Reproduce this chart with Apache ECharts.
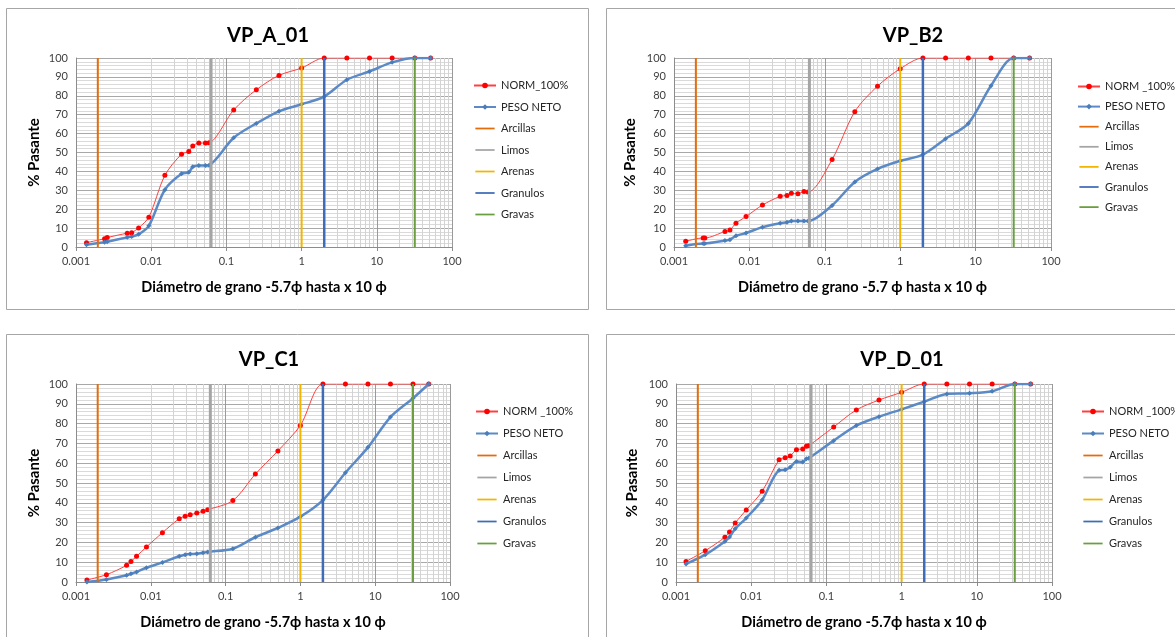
<!DOCTYPE html>
<html><head><meta charset="utf-8">
<script src="https://cdn.jsdelivr.net/npm/echarts@6/dist/echarts.min.js"></script>
<style>html,body{margin:0;padding:0;background:#fff}#c{width:1175px;height:637px}</style>
</head><body><div id="c"></div>
<script>
// ---------- DATA ----------
const xTickLabels = ['0.001', '0.01', '0.1', '1', '10', '100'];
const yTickValues = [0, 10, 20, 30, 40, 50, 60, 70, 80, 90, 100];

// VP_A_01
const sizeA = [0.00138, 0.0024, 0.0026, 0.0048, 0.0055, 0.0068, 0.0093, 0.0152, 0.0253, 0.0316, 0.0357, 0.043, 0.0526, 0.0589, 0.125, 0.25, 0.5, 1, 2, 4, 8, 16, 32, 52];
const normA = [2.3, 4.4, 5.0, 7.3, 7.6, 10.1, 15.8, 37.9, 49.1, 50.5, 53.4, 55.0, 55.0, 55.1, 72.5, 83.2, 90.8, 94.7, 100, 100, 100, 100, 100, 100];
const pesoA = [1.2, 2.5, 2.8, 5.1, 5.5, 6.7, 11.2, 30.3, 38.7, 39.5, 42.4, 43.1, 43.1, 43.3, 57.8, 65.4, 71.8, 75.5, 79.6, 88.5, 92.9, 97.7, 100, 100];

// VP_B2
const sizeB = [0.00143, 0.00244, 0.00256, 0.00474, 0.00552, 0.00664, 0.00903, 0.0149, 0.0256, 0.0315, 0.036, 0.044, 0.053, 0.06, 0.125, 0.25, 0.5, 1, 2, 4, 8, 16, 32, 52];
const normB = [3.0, 4.8, 4.8, 8.2, 9.0, 12.6, 16.1, 22.2, 26.8, 27.3, 28.4, 28.2, 29.3, 29.1, 46.3, 71.6, 85.1, 94.3, 100, 100, 100, 100, 100, 100];
const pesoB = [0.7, 1.9, 1.9, 3.4, 3.9, 5.9, 7.4, 10.5, 12.6, 13.1, 13.7, 13.7, 13.7, 13.7, 22.0, 34.4, 41.3, 45.6, 48.9, 57.3, 65.4, 85.3, 100, 100];

// VP_C1
const sizeC = [0.0014, 0.00255, 0.00475, 0.00543, 0.00645, 0.00875, 0.0143, 0.024, 0.0288, 0.0336, 0.0412, 0.05, 0.0577, 0.125, 0.25, 0.5, 1, 2, 4, 8, 16, 32, 52];
const normC = [1.0, 3.7, 8.4, 10.3, 13.0, 17.7, 24.9, 32.0, 33.2, 34.0, 34.8, 35.7, 36.5, 41.1, 54.5, 66.2, 79.1, 100, 100, 100, 100, 100, 100];
const pesoC = [0, 1.3, 3.4, 4.2, 5.1, 7.2, 9.9, 13.0, 13.8, 14.1, 14.3, 14.8, 15.2, 16.8, 22.6, 27.3, 33.0, 41.4, 55.2, 68.0, 83.3, 92.8, 100];

// VP_D_01
const sizeD = [0.00136, 0.00245, 0.00447, 0.00515, 0.00613, 0.0086, 0.014, 0.0235, 0.0283, 0.033, 0.04, 0.0485, 0.0543, 0.0582, 0.125, 0.25, 0.5, 1, 2, 4, 8, 16, 32, 52];
const normD = [10.4, 15.8, 22.6, 25.3, 29.8, 36.4, 45.8, 61.8, 62.8, 63.6, 66.8, 67.2, 68.5, 68.8, 78.3, 86.9, 91.9, 95.8, 100, 100, 100, 100, 100, 100];
const pesoD = [9.1, 13.8, 20.5, 22.7, 26.9, 32.3, 41.4, 56.4, 56.7, 57.9, 60.9, 60.6, 62.3, 62.5, 71.4, 79.0, 83.5, 87.2, 91.1, 95.0, 95.3, 96.3, 100, 100];

// class boundaries (mm)
const boundaryNames = ['Arcillas', 'Limos', 'Arenas', 'Granulos', 'Gravas'];
const boundarySizes = [0.00195, 0.0625, 1, 2, 32];

// ---------- STYLE / LAYOUT ----------
const boundaryColors = ['#E46C0A', '#A5A5A5', '#F2B600', '#3F6CB8', '#6A9E3F'];
const boundaryWidths = [2, 3, 2, 2.5, 2];
const FONT = 'Lato, "Open Sans", sans-serif';
// plain line legend icon (bbox padded with move-to points so the stroke stays thin)
const LINE_ICON = 'path://M0,0M0,3L22,3L22,5L0,5ZM22,8';

const panels = [
  { title: 'VP_A_01', normName: 'NORM_100%', xName: 'Diámetro de grano -5.7ϕ hasta x 10 ϕ',
    size: sizeA, norm: normA, peso: pesoA,
    grid: { left: 76, top: 58, width: 376, height: 189 }, titleX: 263, titleTop: 21,
    legend: { left: 468, top: 75, gap: 10.5 }, yGap: 34, frame: [6.5, 8.5, 582, 301] },
  { title: 'VP_B2', normName: 'NORM _100%', xName: 'Diámetro de grano -5.7 ϕ hasta x 10 ϕ',
    size: sizeB, norm: normB, peso: pesoB,
    grid: { left: 674, top: 58, width: 377, height: 189 }, titleX: 908, titleTop: 21,
    legend: { left: 1072, top: 76, gap: 9.1 }, yGap: 36, frame: [606.5, 8.5, 620, 301] },
  { title: 'VP_C1', normName: 'NORM _100%', xName: 'Diámetro de grano -5.7ϕ hasta x 10 ϕ',
    size: sizeC, norm: normC, peso: pesoC,
    grid: { left: 76, top: 384, width: 374, height: 198 }, titleX: 264, titleTop: 345,
    legend: { left: 470, top: 401, gap: 11 }, yGap: 34, frame: [6.5, 334.5, 582, 320] },
  { title: 'VP_D_01', normName: 'NORM _100%', xName: 'Diámetro de grano -5.7ϕ hasta x 10 ϕ',
    size: sizeD, norm: normD, peso: pesoD,
    grid: { left: 676, top: 384, width: 376, height: 198 }, titleX: 897, titleTop: 345,
    legend: { left: 1076, top: 401, gap: 11 }, yGap: 36, frame: [606.5, 334.5, 620, 320] }
];

// minor log grid values 2..9 in each decade
const minorGrid = [];
for (let e = -3; e <= 1; e++) for (let k = 2; k <= 9; k++) minorGrid.push(k * Math.pow(10, e));

const chart = echarts.init(document.getElementById('c'), null, { renderer: 'canvas' });

const option = {
  animation: false,
  backgroundColor: '#fff',
  textStyle: { fontFamily: FONT },
  title: [], grid: [], xAxis: [], yAxis: [], legend: [], series: [],
  graphic: panels.map(p => ({
    type: 'rect', z: -10, silent: true,
    shape: { x: p.frame[0], y: p.frame[1], width: p.frame[2], height: p.frame[3] },
    style: { fill: 'none', stroke: '#a6a6a6', lineWidth: 1 }
  }))
};

panels.forEach((p, i) => {
  option.title.push({
    text: p.title, left: p.titleX, top: p.titleTop, textAlign: 'center',
    textStyle: { fontFamily: FONT, fontSize: 20, fontWeight: 'bold', color: '#000' }
  });
  option.grid.push(Object.assign({ containLabel: false }, p.grid));
  option.xAxis.push({
    type: 'log', logBase: 10, min: 0.001, max: 100, gridIndex: i,
    name: p.xName, nameLocation: 'middle', nameGap: 33,
    nameTextStyle: { fontFamily: FONT, fontSize: 14.5, fontWeight: 'bold', color: '#000' },
    axisLine: { show: true, lineStyle: { color: '#8c8c8c', width: 1 } },
    axisTick: { show: true, length: 4, inside: false, lineStyle: { color: '#8c8c8c' } },
    axisLabel: {
      fontFamily: FONT, fontSize: 11, color: '#404040', margin: 9,
      formatter: v => xTickLabels[Math.round(Math.log10(v)) + 3]
    },
    splitLine: { show: true, lineStyle: { color: '#9a9a9a', width: 1 } }
  });
  option.yAxis.push({
    type: 'value', min: 0, max: 100, interval: 10, gridIndex: i,
    name: '% Pasante', nameLocation: 'middle', nameGap: p.yGap,
    nameTextStyle: { fontFamily: FONT, fontSize: 15, fontWeight: 'bold', color: '#000' },
    axisLine: { show: true, lineStyle: { color: '#8c8c8c' } },
    axisTick: { show: false },
    axisLabel: { fontFamily: FONT, fontSize: 11, color: '#404040', margin: 8,
      formatter: v => (yTickValues.indexOf(v) >= 0 ? String(v) : '') },
    splitLine: { show: true, lineStyle: { color: '#a8a8a8', width: 1 } },
    minorTick: { show: false, splitNumber: 5 },
    minorSplitLine: { show: true, lineStyle: { color: '#dadada', width: 1 } }
  });
  const legendData = [{ name: p.normName }, { name: 'PESO NETO' }]
    .concat(boundaryNames.map(n => ({ name: n, icon: LINE_ICON })));
  option.legend.push({
    orient: 'vertical', left: p.legend.left, top: p.legend.top, itemGap: p.legend.gap,
    itemWidth: 22, itemHeight: 7, data: legendData, selectedMode: false,
    textStyle: { fontFamily: FONT, fontSize: 11, color: '#262626' }
  });
  // minor vertical grid lines (log positions), drawn through the axis scale
  option.series.push({
    type: 'line', name: 'grid' + i, xAxisIndex: i, yAxisIndex: i, data: [], silent: true,
    markLine: {
      silent: true, z: 1, symbol: ['none', 'none'], label: { show: false },
      lineStyle: { color: '#d3d3d3', width: 1, type: 'solid' },
      emphasis: { disabled: true },
      data: minorGrid.map(v => ({ xAxis: v }))
    }
  });
  option.series.push({
    type: 'line', name: p.normName, xAxisIndex: i, yAxisIndex: i, z: 3,
    data: p.size.map((s, j) => [s, p.norm[j]]),
    smooth: 0.3, symbol: 'circle', symbolSize: 5,
    itemStyle: { color: '#ff0000' },
    lineStyle: { color: '#ff4040', width: 1 },
    emphasis: { disabled: true }
  });
  option.series.push({
    type: 'line', name: 'PESO NETO', xAxisIndex: i, yAxisIndex: i, z: 4,
    data: p.size.map((s, j) => [s, p.peso[j]]),
    smooth: 0.3, symbol: 'diamond', symbolSize: 5,
    itemStyle: { color: '#4a7ebb' },
    lineStyle: { color: '#5b8ac6', width: 2.5 },
    emphasis: { disabled: true }
  });
  boundaryNames.forEach((n, k) => {
    option.series.push({
      type: 'line', name: n, xAxisIndex: i, yAxisIndex: i, z: 5,
      data: [[boundarySizes[k], 0], [boundarySizes[k], 100]],
      symbol: 'none', showSymbol: false,
      lineStyle: { color: boundaryColors[k], width: boundaryWidths[k] },
      itemStyle: { color: boundaryColors[k] },
      emphasis: { disabled: true }
    });
  });
});

chart.setOption(option);
</script>
</body></html>
